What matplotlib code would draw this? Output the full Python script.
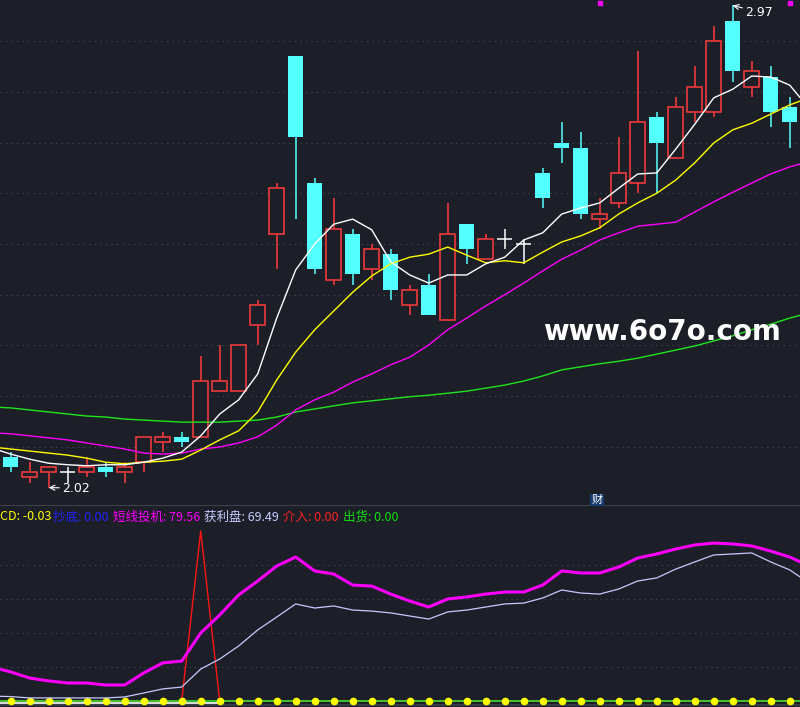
import numpy as np
import matplotlib.pyplot as plt
from matplotlib.patches import Rectangle

plt.rcParams['font.family'] = ['Noto Sans CJK SC', 'DejaVu Sans']

# daily candles (bars 0..41)
opens = [2.08, 2.04, 2.05, 2.05, 2.05, 2.06, 2.05, 2.07, 2.11, 2.12, 2.12, 2.21, 2.21, 2.34,
         2.52, 2.87, 2.62, 2.43, 2.52, 2.45, 2.48, 2.38, 2.42, 2.35, 2.54, 2.47, 2.51, 2.50,
         2.64, 2.70, 2.69, 2.55, 2.58, 2.62, 2.75, 2.67, 2.76, 2.76, 2.94, 2.81, 2.83, 2.77]
highs = [2.09, 2.07, 2.06, 2.06, 2.08, 2.07, 2.07, 2.12, 2.13, 2.13, 2.28, 2.30, 2.30, 2.39,
         2.62, 2.87, 2.63, 2.59, 2.53, 2.50, 2.49, 2.42, 2.44, 2.58, 2.54, 2.52, 2.53, 2.51,
         2.65, 2.74, 2.72, 2.59, 2.71, 2.88, 2.76, 2.79, 2.85, 2.93, 2.97, 2.86, 2.85, 2.79]
lows = [2.05, 2.03, 2.02, 2.03, 2.04, 2.04, 2.03, 2.05, 2.09, 2.10, 2.12, 2.21, 2.21, 2.30,
        2.45, 2.55, 2.44, 2.42, 2.42, 2.43, 2.39, 2.36, 2.36, 2.35, 2.46, 2.47, 2.49, 2.46,
        2.57, 2.66, 2.55, 2.53, 2.57, 2.60, 2.60, 2.67, 2.74, 2.75, 2.82, 2.79, 2.73, 2.69]
closes = [2.06, 2.05, 2.06, 2.05, 2.06, 2.05, 2.06, 2.12, 2.12, 2.11, 2.23, 2.23, 2.30, 2.38,
          2.61, 2.71, 2.45, 2.53, 2.44, 2.49, 2.41, 2.41, 2.36, 2.52, 2.49, 2.51, 2.51, 2.50,
          2.59, 2.69, 2.56, 2.56, 2.64, 2.74, 2.70, 2.77, 2.81, 2.90, 2.84, 2.84, 2.76, 2.74]

# moving averages, bars -1..42
ma5 = [2.098, 2.086, 2.076, 2.068, 2.065, 2.063, 2.065, 2.065, 2.070, 2.078, 2.090, 2.122, 2.165,
       2.193, 2.244, 2.354, 2.449, 2.500, 2.539, 2.549, 2.528, 2.465, 2.439, 2.423, 2.439, 2.439,
       2.461, 2.474, 2.508, 2.522, 2.559, 2.571, 2.581, 2.610, 2.638, 2.640, 2.687, 2.736, 2.788,
       2.805, 2.831, 2.829, 2.813, 2.768]
ma10 = [2.100, 2.096, 2.092, 2.088, 2.084, 2.078, 2.070, 2.067, 2.070, 2.072, 2.076, 2.094, 2.114,
        2.132, 2.169, 2.232, 2.287, 2.331, 2.368, 2.405, 2.437, 2.461, 2.474, 2.480, 2.494, 2.478,
        2.463, 2.467, 2.463, 2.484, 2.504, 2.516, 2.532, 2.559, 2.581, 2.600, 2.626, 2.660, 2.699,
        2.725, 2.738, 2.756, 2.774, 2.788]
ma20 = [2.128, 2.126, 2.122, 2.118, 2.114, 2.108, 2.102, 2.096, 2.088, 2.086, 2.088, 2.096, 2.100,
        2.108, 2.120, 2.143, 2.173, 2.193, 2.208, 2.228, 2.244, 2.262, 2.277, 2.301, 2.331, 2.354,
        2.378, 2.400, 2.423, 2.447, 2.470, 2.488, 2.508, 2.522, 2.535, 2.539, 2.543, 2.563, 2.583,
        2.602, 2.620, 2.638, 2.652, 2.662]
ma60 = [2.179, 2.177, 2.173, 2.169, 2.165, 2.161, 2.159, 2.155, 2.153, 2.151, 2.149, 2.149, 2.149,
        2.151, 2.153, 2.159, 2.169, 2.175, 2.181, 2.187, 2.191, 2.195, 2.199, 2.202, 2.206, 2.210,
        2.216, 2.222, 2.230, 2.240, 2.252, 2.258, 2.264, 2.269, 2.275, 2.283, 2.291, 2.299, 2.309,
        2.319, 2.331, 2.342, 2.354, 2.364]

# indicator panel, bars -1..42
speculate = [20.0, 17.1, 13.5, 11.8, 10.6, 10.6, 9.4, 9.4, 16.5, 22.4, 23.5, 40.0, 50.6, 62.4,
             70.6, 79.4, 84.7, 76.5, 74.7, 68.2, 67.6, 62.9, 58.8, 55.3, 60.0, 61.2, 62.9, 64.1,
             64.1, 68.2, 76.5, 75.3, 75.3, 78.8, 84.1, 86.5, 89.4, 91.8, 92.9, 92.4, 91.2, 88.2,
             84.7, 79.56]
profit = [2.9, 2.6, 1.8, 1.8, 1.8, 1.8, 1.8, 2.4, 4.7, 7.1, 8.2, 18.8, 24.7, 32.4, 41.8, 49.4,
          57.1, 54.7, 55.9, 53.5, 52.9, 51.8, 50.0, 48.2, 52.4, 53.5, 55.3, 57.1, 57.6, 60.6, 65.3,
          63.5, 62.9, 65.9, 70.6, 72.4, 77.6, 81.8, 85.9, 86.5, 87.1, 81.8, 77.1, 69.49]
entry = [0, 0, 0, 0, 0, 0, 0, 0, 0, 0, 0, 100, 0, 0, 0, 0, 0, 0, 0, 0, 0, 0, 0, 0, 0, 0, 0, 0,
         0, 0, 0, 0, 0, 0, 0, 0, 0, 0, 0, 0, 0, 0, 0, 0]
exit_line = [0, 0, 0, 0, 0, 0, 0, 0, 0, 0, 0, 0, 0, 0, 0, 0, 0, 0, 0, 0, 0, 0, 0, 0, 0, 0, 0, 0,
             0, 0, 0, 0, 0, 0, 0, 0, 0, 0, 0, 0, 0, 0, 0, 0]
cd_vals = [0, 0, 0, 0, 0, 0, 0, 0, 0, 0, 0, 0, 0, 0, 0, 0, 0, 0, 0, 0, 0,
           0, 0, 0, 0, 0, 0, 0, 0, 0, 0, 0, 0, 0, 0, 0, 0, 0, 0, 0, 0, -0.03]
base_white = [-0.9, -0.9, -0.9, -0.9, -0.9, -0.9, -0.9, -0.9, -0.9, -0.9, -0.9, -0.9, -0.9]

price_grid = [2.1, 2.2, 2.3, 2.4, 2.5, 2.6, 2.7, 2.8, 2.9]
ind_grid = [20, 40, 60, 80]
signal_bars = [31, 41]

bg = '#1c1f27'
red = '#ff3b3b'
cyan = '#54ffff'
grid_c = '#464b56'

bars = np.arange(len(opens))
ma_x = np.arange(-1, len(ma5) - 1)

fig = plt.figure(figsize=(8, 7.07), dpi=100, facecolor=bg)
H = 707.0
ax = fig.add_axes([0, 1 - 505 / H, 1, 505 / H])
ax2 = fig.add_axes([0, 0, 1, 202 / H])
xlim = (-0.563, 41.54)
for a in (ax, ax2):
    a.set_facecolor(bg)
    a.set_xlim(*xlim)
    a.set_xticks([])
    a.set_yticks([])
    for s in a.spines.values():
        s.set_visible(False)
ax.set_ylim(1.9857, 2.9808)
ax2.set_ylim(-3.53, 115.3)
ax2.spines['top'].set_visible(True)
ax2.spines['top'].set_color('#3c414c')

for g in price_grid:
    ax.axhline(g, color=grid_c, lw=0.8, ls=(0, (1, 4)), zorder=0)
for g in ind_grid:
    ax2.axhline(g, color=grid_c, lw=0.8, ls=(0, (1, 4)), zorder=0)

# candles
w = 0.78
for i in bars:
    o, h, l, c = opens[i], highs[i], lows[i], closes[i]
    if c > o:
        ax.vlines(i, l, o, color=red, lw=1.1, zorder=3)
        ax.vlines(i, c, h, color=red, lw=1.1, zorder=3)
        ax.add_patch(Rectangle((i - w / 2, o), w, c - o, facecolor=bg, edgecolor=red, lw=1.1, zorder=3))
    elif c < o:
        ax.vlines(i, l, h, color=cyan, lw=1.1, zorder=3)
        ax.add_patch(Rectangle((i - w / 2, c), w, o - c, facecolor=cyan, edgecolor='none', zorder=3))
    else:
        ax.vlines(i, l, h, color='white', lw=1.1, zorder=3)
        ax.hlines(c, i - w / 2, i + w / 2, color='white', lw=1.1, zorder=3)

ax.plot(ma_x, ma60, color='#1ee61e', lw=1.0, zorder=4)
ax.plot(ma_x, ma20, color='#ff00ff', lw=1.0, zorder=4)
ax.plot(ma_x, ma10, color='#ffff00', lw=1.0, zorder=4)
ax.plot(ma_x, ma5, color='white', lw=1.0, zorder=4)

ax.plot(signal_bars, [2.975] * len(signal_bars), 's', color='#ff00ff', ms=3, zorder=5)

ax.annotate('2.97', xy=(38, highs[38]), xytext=(38.65, 2.957), color='white', fontsize=9,
            va='center', ha='left', family='DejaVu Sans',
            arrowprops=dict(arrowstyle='->', color='white', lw=0.8, shrinkA=0, shrinkB=0))
ax.annotate('2.02', xy=(2, lows[2]), xytext=(2.7, 2.019), color='white', fontsize=9,
            va='center', ha='left', family='DejaVu Sans',
            arrowprops=dict(arrowstyle='->', color='white', lw=0.8, shrinkA=0, shrinkB=0))

fig.text(662 / 800, 1 - 332 / H, 'www.6o7o.com', color='white', fontsize=20, fontweight='bold',
         ha='center', va='center', family='DejaVu Sans')
fig.text(597 / 800, 1 - 500 / H, '财', color='white', fontsize=8, ha='center', va='center',
         bbox=dict(boxstyle='square,pad=0.1', facecolor='#173c6e', edgecolor='none'))

# indicator panel
ax2.plot(ma_x, entry, color='#ff1414', lw=1.0, zorder=2)
ax2.plot(ma_x[:len(base_white)], base_white, color='white', lw=1.2, zorder=3)
ax2.plot(ma_x, exit_line, color='#2fdc2f', lw=1.2, zorder=3)
ax2.plot(bars, cd_vals, 'o', color='#ffff00', ms=4.5, zorder=4)
ax2.plot(ma_x, profit, color='#c8c8ff', lw=0.9, zorder=5)
ax2.plot(ma_x, speculate, color='#ff00ff', lw=2.2, zorder=6)
ax2.axhline(-2.35, color='#3c414c', lw=1.2)

labels = [('CD: -0.03', '#ffff00', 0), ('抄底: 0.00', '#2222ff', 53),
          ('短线投机: 79.56', '#ff00ff', 113), ('获利盘: 69.49', '#c8ccff', 204),
          ('介入: 0.00', '#ff2020', 283), ('出货: 0.00', '#10e010', 343)]
for txt, col, px in labels:
    fig.text(px / 800, 1 - 517 / H, txt, color=col, fontsize=9, ha='left', va='center')

fig.savefig('out.png', dpi=100, facecolor=bg)
